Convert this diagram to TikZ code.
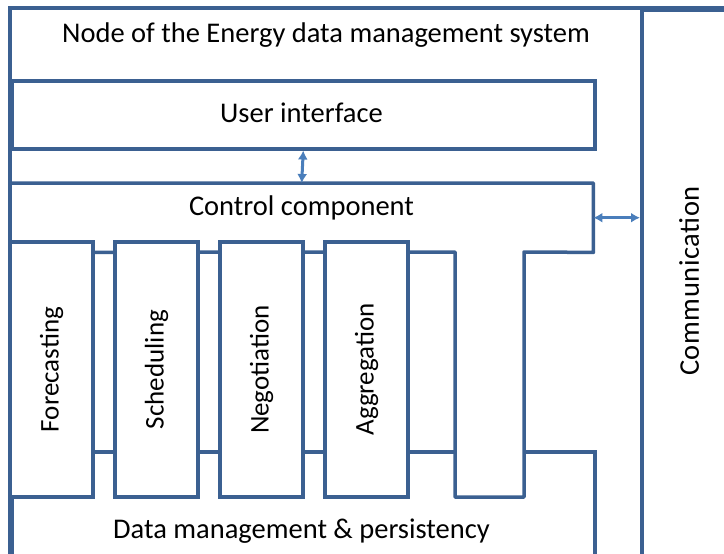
\documentclass[tikz,border=0pt]{standalone}
\usepackage{fontspec}
\setmainfont{Carlito}
\usetikzlibrary{arrows.meta,calc}
\definecolor{frame}{RGB}{59,96,145}
\definecolor{arrowc}{RGB}{74,126,187}
\tikzset{
  box/.style={draw=frame, line width=3.5pt, fill=white, inner sep=0pt},
  bar/.style={box, rotate=90, minimum width=255pt, minimum height=83pt},
  lbl/.style={inner sep=0pt, font=\fontsize{28.5}{31}\selectfont},
  link/.style={draw=arrowc, line width=3pt, {Latex[length=9pt,width=10pt]}-{Latex[length=9pt,width=10pt]}}
}
\begin{document}
\begin{tikzpicture}[x=1pt,y=-1pt]
\useasboundingbox (0,0) rectangle (724,554);
\clip (0,0) rectangle (724,554);
% outer frame
\draw[draw=frame, line width=3.5pt] (10,8) rectangle (900,700);
\node[box, minimum width=260pt, minimum height=692pt, anchor=north west] (comm) at (640,8) {};
\node[lbl, rotate=90] (commtxt) at (689,281) {\addfontfeatures{LetterSpace=2}Communication};
\node[lbl] (title) at (326,35) {Node of the Energy data management system};
% data management
\node[box, minimum width=583pt, minimum height=250pt, anchor=north west] (data) at (10,450) {};
\node[lbl] (datatxt) at (301.5,531) {Data management \& persistency};
% control component
\node[inner sep=0pt, minimum width=583pt, minimum height=69pt, anchor=north west] (ctrl) at (10,183) {};
\draw[draw=frame, line width=3.5pt, fill=white, line join=round]
  (ctrl.north west) -- (ctrl.north east) -- (ctrl.south east) -- (524,252) -- (524,497)
  -- (455,497) -- (455,252) -- (ctrl.south west) -- cycle;
\node[lbl] (ctrltxt) at (301.5,208) {Control component};
% modules
\node[bar] (fc) at (51.5,369.5) {\fontsize{27}{30}\selectfont Forecasting};
\node[bar] (sc) at (156.5,369.5) {\fontsize{27}{30}\selectfont Scheduling};
\node[bar] (ng) at (261.5,369.5) {\fontsize{27}{30}\selectfont Negotiation};
\node[bar] (ag) at (366.5,369.5) {\fontsize{27}{30}\selectfont Aggregation};
% user interface
\node[box, minimum width=583pt, minimum height=68pt, anchor=north west] (ui) at (10,79) {};
\node[lbl] (uitxt) at (301.5,113) {User interface};
% connectors
\draw[link] (ui.south) -- (ctrl.north);
\draw[link] (ctrl.east) -- (ctrl.east -| comm.west);
\end{tikzpicture}
\end{document}
